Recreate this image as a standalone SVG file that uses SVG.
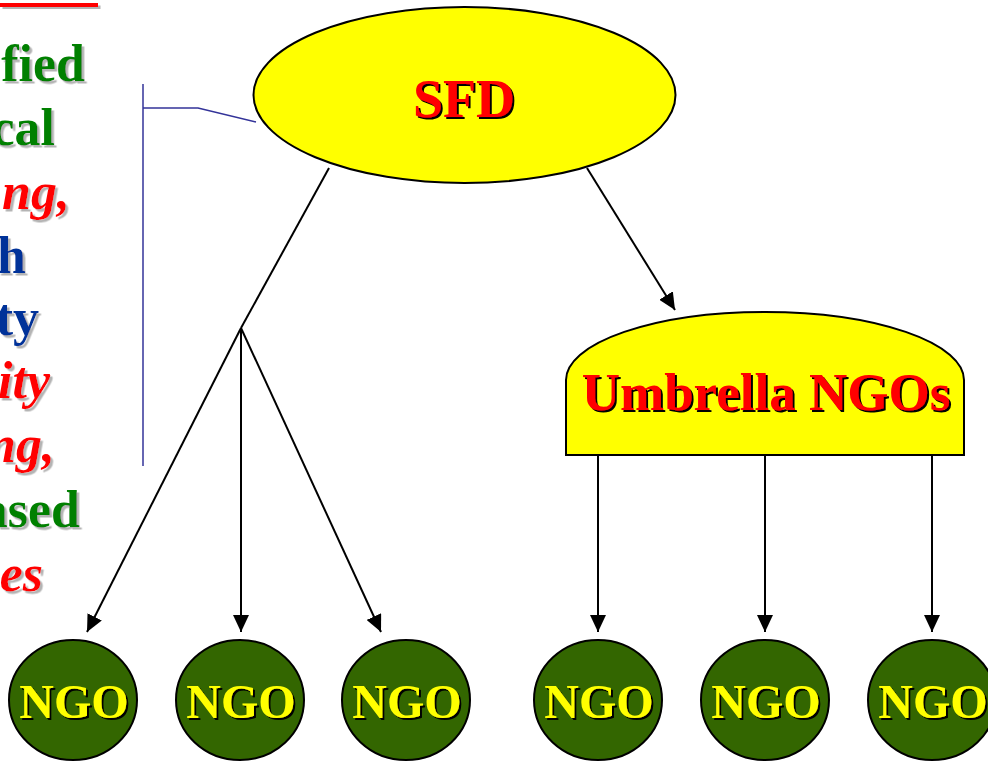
<svg xmlns="http://www.w3.org/2000/svg" width="988" height="761" viewBox="0 0 988 761">
<defs>
<filter id="shb" x="-10%" y="-10%" width="130%" height="130%"><feDropShadow dx="2" dy="2" stdDeviation="0" flood-color="#000"/></filter>
<filter id="shg" x="-10%" y="-10%" width="130%" height="140%"><feDropShadow dx="2.5" dy="2.5" stdDeviation="0.4" flood-color="#b4b4b4"/></filter>
<marker id="ah" markerUnits="userSpaceOnUse" markerWidth="18" markerHeight="16" viewBox="0 0 18 16" refX="17" refY="8" orient="auto"><path d="M0,0 L17,8 L0,16 Z" fill="#000"/></marker>
<style>
.lt{font-family:"Liberation Serif","Times New Roman",serif;font-weight:bold;font-size:52px;text-anchor:end;filter:url(#shg)}
.g{fill:#008000}.r{fill:#ff0000;font-style:italic}.b{fill:#003399}
.lbl{font-family:"Liberation Serif","Times New Roman",serif;font-weight:bold;text-anchor:middle;filter:url(#shb)}
.ngo ellipse{fill:#336600;stroke:#000;stroke-width:2}
.ngo text{fill:#ffff00;font-size:48px}
.c line,.c path{stroke:#000;stroke-width:2;fill:none}
.c .a{marker-end:url(#ah)}
</style>
</defs>
<g id="left-text">
<rect x="0" y="3" width="98" height="4" fill="#ff0000" filter="url(#shg)"/>
<text class="lt g" x="85" y="81">fied</text>
<text class="lt g" x="55" y="145">cal</text>
<text class="lt r" x="70" y="209">ng,</text>
<text class="lt b" x="26" y="273">h</text>
<text class="lt b" x="39" y="335">ty</text>
<text class="lt r" x="50" y="398">ity</text>
<text class="lt r" x="55" y="462">ng,</text>
<text class="lt g" x="80" y="527">ased</text>
<text class="lt r" x="43" y="591">es</text>
</g>
<g id="bracket" fill="none" stroke="#333399" stroke-width="1.5">
<line x1="143" y1="84" x2="143" y2="466"/>
<path d="M143,108 L198,108 L256,122"/>
</g>
<g id="connectors" class="c">
<line x1="329" y1="168" x2="241" y2="328"/>
<line class="a" x1="241" y1="328" x2="87" y2="632"/>
<line class="a" x1="241" y1="328" x2="241" y2="632"/>
<line class="a" x1="241" y1="328" x2="381" y2="632"/>
<line class="a" x1="587" y1="168" x2="675" y2="310"/>
<line class="a" x1="598" y1="455" x2="598" y2="632"/>
<line class="a" x1="765" y1="455" x2="765" y2="632"/>
<line class="a" x1="932" y1="455" x2="932" y2="632"/>
</g>
<g id="sfd">
<ellipse cx="464.5" cy="95" rx="211" ry="88" fill="#ffff00" stroke="#000" stroke-width="2"/>
<text class="lbl" x="464" y="117" font-size="54" fill="#ff0000">SFD</text>
</g>
<g id="umbrella">
<path d="M566,455 L566,380 A199,68 0 0 1 964,380 L964,455 Z" fill="#ffff00" stroke="#000" stroke-width="2"/>
<text class="lbl" x="766" y="410" font-size="53" fill="#ff0000">Umbrella NGOs</text>
</g>
<g id="ngo1" class="ngo"><ellipse cx="73" cy="700" rx="64" ry="60"/><text class="lbl" x="74" y="718">NGO</text></g>
<g id="ngo2" class="ngo"><ellipse cx="240" cy="700" rx="64" ry="60"/><text class="lbl" x="241" y="718">NGO</text></g>
<g id="ngo3" class="ngo"><ellipse cx="406" cy="700" rx="64" ry="60"/><text class="lbl" x="407" y="718">NGO</text></g>
<g id="ngo4" class="ngo"><ellipse cx="598" cy="700" rx="64" ry="60"/><text class="lbl" x="599" y="718">NGO</text></g>
<g id="ngo5" class="ngo"><ellipse cx="765" cy="700" rx="64" ry="60"/><text class="lbl" x="766" y="718">NGO</text></g>
<g id="ngo6" class="ngo"><ellipse cx="932" cy="700" rx="64" ry="60"/><text class="lbl" x="933" y="718">NGO</text></g>
</svg>
